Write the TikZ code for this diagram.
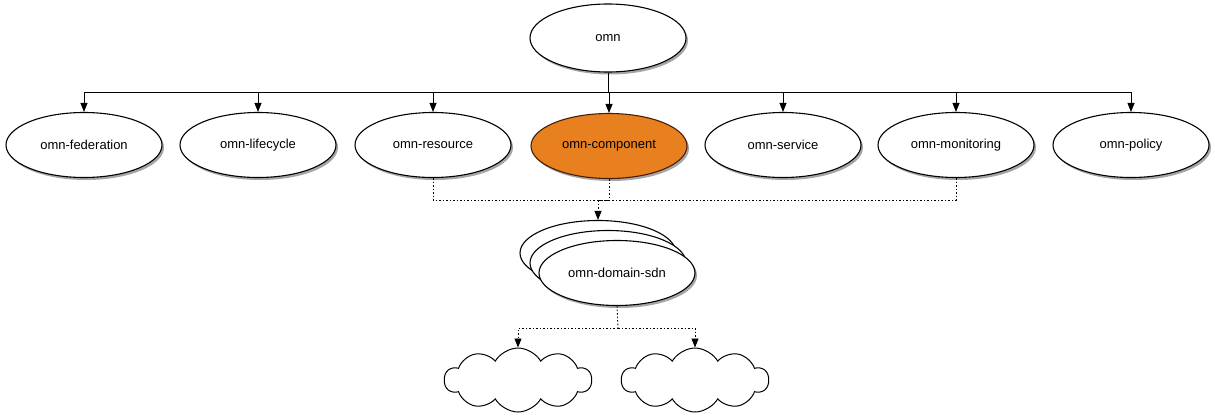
\documentclass[tikz,border=0pt]{standalone}
\usepackage{fontspec}
\setmainfont{Liberation Sans}
\usetikzlibrary{shapes.geometric,shapes.symbols,shadows,arrows.meta}
\definecolor{compfill}{RGB}{232,128,32}
\definecolor{compdraw}{RGB}{70,30,10}
\tikzset{
  pkg/.style={ellipse, draw=black, line width=1.1pt, fill=white, minimum width=156pt, minimum height=65pt, inner sep=0pt,
    font=\fontsize{13}{15}\selectfont,
    drop shadow={shadow xshift=2pt, shadow yshift=-2.5pt, fill=black, opacity=0.35}},
  hot/.style={pkg, fill=compfill, draw=compdraw},
  wire/.style={line width=0.9pt, draw=black},
  arr/.style={-{Triangle[length=9pt,width=7pt]}},
  dotline/.style={line width=0.9pt, dash pattern=on 1.5pt off 2pt},
  cloudnode/.style={cloud, cloud puffs=10, cloud puff arc=120, aspect=2.3, draw=black, line width=1pt, fill=white,
    minimum width=147pt, minimum height=64pt, inner sep=0pt}
}
\begin{document}
\begin{tikzpicture}[x=1pt,y=-1pt]
\path[use as bounding box, fill=white] (0,0) rectangle (1215,415);
\node[pkg, minimum height=68pt] (omn) at (608,38) {omn};
\node[pkg] (fed) at (84,145) {omn-federation};
\node[pkg] (life) at (258,145) {omn-lifecycle};
\node[pkg] (res) at (433,145) {omn-resource};
\node[hot] (comp) at (609,146) {omn-component};
\node[pkg] (serv) at (783,145) {omn-service};
\node[pkg] (mon) at (956,145) {omn-monitoring};
\node[pkg] (pol) at (1131,145) {omn-policy};
\coordinate (bus) at (608,92);
\draw[wire] (omn.south) -- (bus);
\foreach \n in {fed,life,res,comp,serv,mon,pol}{
  \draw[wire,arr] (bus) -| (\n.north);
}
\node[pkg] (back) at (598,253) {};
\node[pkg] (mid) at (608,263) {};
\node[pkg] (front) at (617,273) {omn-domain-sdn};
\coordinate (dj) at (598,200);
\draw[dotline] (res.south) |- (dj);
\draw[dotline] (mon.south) |- (dj);
\draw[dotline] (comp.south) |- (dj);
\draw[dotline,arr] (dj) -- (back.north);
\node[cloudnode] (c1) at (518,380) {};
\node[cloudnode] (c2) at (695,380) {};
\coordinate (dk) at (618,328);
\draw[dotline] (front.south) -- (dk);
\draw[dotline,arr] (dk) -| (c1.north);
\draw[dotline,arr] (dk) -| (c2.north);
\end{tikzpicture}
\end{document}
